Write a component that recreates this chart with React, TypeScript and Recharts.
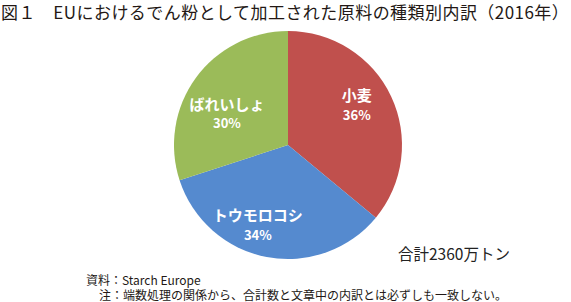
import React from 'react';
import { PieChart, Pie, Cell } from 'recharts';

const categories = ['小麦', 'トウモロコシ', 'ばれいしょ'];
const shares = [36, 34, 30];
const colors = ['#C0504D', '#558ACF', '#9BBB59'];
// label placement: radius from centre and angular nudge (degrees) from slice mid-angle
const labelPlace: Record<string, { r: number; shift: number }> = {
  '小麦': { r: 80, shift: 5.5 },
  'トウモロコシ': { r: 85, shift: -10 },
  'ばれいしょ': { r: 69, shift: 8.3 },
};

const data = categories.map((name, i) => ({ name, value: shares[i] }));

const JP = '"Noto Sans CJK JP", "Noto Sans", sans-serif';
const RAD = Math.PI / 180;

const renderLabel = (props: any) => {
  const { cx, cy, midAngle, name, value } = props;
  const p = labelPlace[name] ?? { r: 78, shift: 0 };
  const a = midAngle + p.shift;
  const x = cx + p.r * Math.cos(-a * RAD);
  const y = cy + p.r * Math.sin(-a * RAD);
  return (
    <g>
      <text x={x} y={y - 9.5} textAnchor="middle" dominantBaseline="central" fill="#fff"
        fontFamily={JP} fontWeight={700} fontSize={15}>{name}</text>
      <text x={x} y={y + 10} textAnchor="middle" dominantBaseline="central" fill="#fff"
        fontFamily={JP} fontWeight={700} fontSize={13}>{value}%</text>
    </g>
  );
};

export default function App() {
  return (
    <div style={{ position: 'absolute', left: 0, top: 0, width: 571, height: 302, background: '#fff', fontFamily: JP, overflow: 'hidden' }}>
      <div style={{ position: 'absolute', left: 1, top: 1, width: 568, fontSize: 17, lineHeight: '22px', color: '#231815', whiteSpace: 'nowrap', fontWeight: 400, letterSpacing: 0.45 }}>
        図１　EUにおけるでん粉として加工された原料の種類別内訳（2016年）
      </div>
      <div style={{ position: 'absolute', left: 0, top: 0 }}>
        <PieChart width={571} height={302} margin={{ top: 0, right: 0, bottom: 0, left: 0 }}>
          <Pie data={data} dataKey="value" nameKey="name" cx={288} cy={145} outerRadius={114}
            startAngle={90} endAngle={-270} stroke="none" isAnimationActive={false}
            labelLine={false} label={renderLabel}>
            {data.map((d, i) => (
              <Cell key={d.name} fill={colors[i]} />
            ))}
          </Pie>
        </PieChart>
      </div>
      <div style={{ position: 'absolute', left: 398, top: 242, fontSize: 15.5, lineHeight: '22px', color: '#222', whiteSpace: 'nowrap' }}>
        合計2360万トン
      </div>
      <svg style={{ position: 'absolute', left: 0, top: 0 }} width={571} height={302}>
        <text fontFamily={JP} fontSize={12} fill="#231815" dominantBaseline="central">
          <tspan x={86} y={278.5}>資料：Starch Europe</tspan>
          <tspan x={99} y={293.5}>注：端数処理の関係から、合計数と文章中の内訳とは必ずしも一致しない。</tspan>
        </text>
      </svg>
    </div>
  );
}
